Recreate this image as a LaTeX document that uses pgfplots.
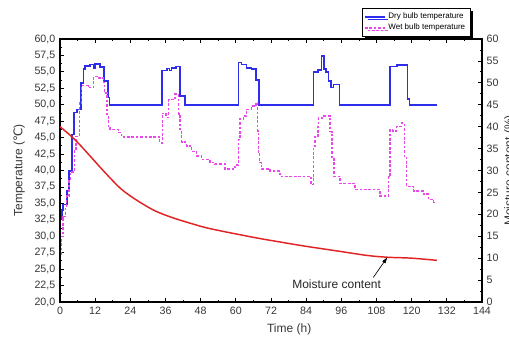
\documentclass[border=0pt]{standalone}
\usepackage{pgfplots}
\pgfplotsset{compat=1.18}
\usepackage{fontspec}
\setmainfont{Liberation Sans}
\newfontfamily\dejavu{DejaVu Sans}
\usetikzlibrary{shadows,arrows.meta}
\definecolor{dryblue}{RGB}{45,45,235}
\definecolor{wetmag}{RGB}{235,70,235}
\definecolor{moistred}{RGB}{225,35,35}
\definecolor{ticktext}{RGB}{55,55,55}

\pgfplotstableread{
t T
0.5 32.6
0.6 34.0
1.1 34.8
2.3 36.9
3.1 39.9
4.0 45.5
4.8 48.8
5.7 49.3
7.1 53.3
8.0 55.4
8.6 55.9
10.2 56.1
11.4 55.5
11.9 56.2
13.7 55.7
15.1 53.6
16.3 51.1
16.9 50.0
34.9 55.2
36.5 55.5
37.3 55.2
38.0 55.6
39.5 55.8
40.9 51.3
42.7 50.0
60.9 56.4
62.0 56.1
63.6 55.6
65.4 55.4
66.9 53.8
67.9 50.0
86.5 55.0
88.0 55.3
89.2 57.4
90.0 55.4
90.8 55.0
91.6 53.6
92.5 52.6
93.3 53.1
95.4 50.0
112.6 55.8
115.0 56.0
118.6 50.9
119.3 50.0
128.6 50.0
}\drybulb

\pgfplotstableread{
t T
0.3 27.3
0.6 30.0
1.1 33.0
1.9 34.6
2.3 36.1
3.1 38.6
3.5 39.8
4.9 43.2
5.4 45.2
6.6 50.3
7.4 52.9
9.7 52.6
11.5 54.3
13.1 54.1
14.8 53.4
15.2 51.8
16.0 48.5
16.5 46.5
17.1 46.2
19.9 45.8
21.0 45.1
34.0 44.2
34.9 48.7
36.2 48.1
37.1 50.8
39.3 51.6
40.5 48.6
41.0 46.2
41.5 44.3
43.2 43.7
44.9 42.9
46.6 42.2
48.3 41.7
51.2 41.2
52.9 41.0
56.3 40.2
59.7 40.8
60.9 44.7
61.4 47.8
62.6 48.3
63.7 49.3
65.4 49.8
66.9 50.3
67.4 46.0
67.7 42.5
68.0 41.2
68.8 40.2
71.7 39.9
75.1 39.1
85.7 37.9
86.5 43.7
87.0 45.2
88.0 46.7
88.2 48.0
89.5 48.3
92.2 45.9
92.8 42.0
93.5 39.1
95.6 38.0
100.7 37.1
109.2 36.1
112.1 39.1
112.6 46.2
113.5 46.0
114.8 46.7
116.5 47.2
117.5 42.0
118.3 37.6
120.6 36.9
124.0 36.4
125.7 35.6
127.5 35.1
128.0 35.1
}\wetbulb

\pgfplotstableread{
t M
0 40.0
5 37.1
10 33.5
15.4 29.5
21 25.7
26.7 23.0
32.4 20.8
38.1 19.3
43.8 18.1
49.5 17.0
55 16.2
61 15.4
68 14.5
75 13.7
83 12.8
95 11.6
105 10.6
112 10.2
120 10.0
128.6 9.5
}\moisture

\begin{document}
\begin{tikzpicture}
\pgfplotsset{
  every axis/.append style={
    width=316.5pt, height=197.25pt, scale only axis,
    xmin=0, xmax=144,
    tick align=inside,
    major tick length=3pt, minor tick length=1.6pt,
    every tick/.style={line width=0.6pt, black},
    axis line style={line width=0.8pt},
    tick label style={font=\fontsize{8}{9}\selectfont, text=ticktext},
    label style={font=\fontsize{9}{10}\selectfont, text=ticktext},
    /pgf/number format/assume math mode=true,
  }
}
\begin{axis}[name=ax,
  ymin=20, ymax=60,
  xtick={0,12,...,144}, minor x tick num=1,
  ytick={20,22.5,...,60}, minor y tick num=1,
  ytick pos=left,
  yticklabel style={/pgf/number format/.cd, fixed, fixed zerofill, precision=1, use comma},
  xlabel={Time (h)}, ylabel={Temperature ({\dejavu ℃})},
  xlabel style={at={(axis description cs:0.543,-0.106)}, anchor=center},
  ylabel style={at={(axis description cs:-0.097,0.5)}, anchor=center},
  legend cell align=left,
  legend image code/.code={\draw[#1] (0pt,0pt) -- (15pt,0pt);},
  legend style={at={(axis description cs:0.972,1.118)}, anchor=north east,
    draw=black, line width=0.5pt, fill=white,
    font=\fontsize{6}{6.5}\selectfont, inner sep=1.5pt, row sep=-1.5pt,
    drop shadow={shadow xshift=2pt, shadow yshift=-2pt, fill=black, opacity=1}},
]
\addplot[const plot mark left, dryblue, line width=1.2pt] table[x=t,y=T]{\drybulb};
\addlegendentry{Dry bulb temperature}
\addplot[const plot mark left, wetmag, line width=1.1pt, dash pattern=on 2pt off 1.3pt] table[x=t,y=T]{\wetbulb};
\addlegendentry{Wet bulb temperature}
\end{axis}
\begin{axis}[
  ymin=0, ymax=60,
  ytick={0,5,...,60}, minor y tick num=1,
  axis y line*=right, axis x line=none,
  ylabel={Moisture content (\%)},
  ylabel style={overlay, at={(axis description cs:1.066,0.5)}, anchor=center},
]
\addplot[moistred, line width=1.1pt, smooth] table[x=t,y=M]{\moisture};
\node[font=\fontsize{9}{10}\selectfont, text=black!85] at (axis cs:94.4,4.0) {Moisture content};
\draw[line width=0.5pt, -{Latex[length=5pt,width=3pt]}] (axis cs:106.9,5.6) -- (axis cs:111.8,10.3);
\end{axis}
\pgfresetboundingbox
\useasboundingbox ([xshift=-45pt,yshift=-28.5pt]ax.south west) rectangle ([xshift=20.25pt,yshift=29.25pt]ax.north east);
\end{tikzpicture}
\end{document}
